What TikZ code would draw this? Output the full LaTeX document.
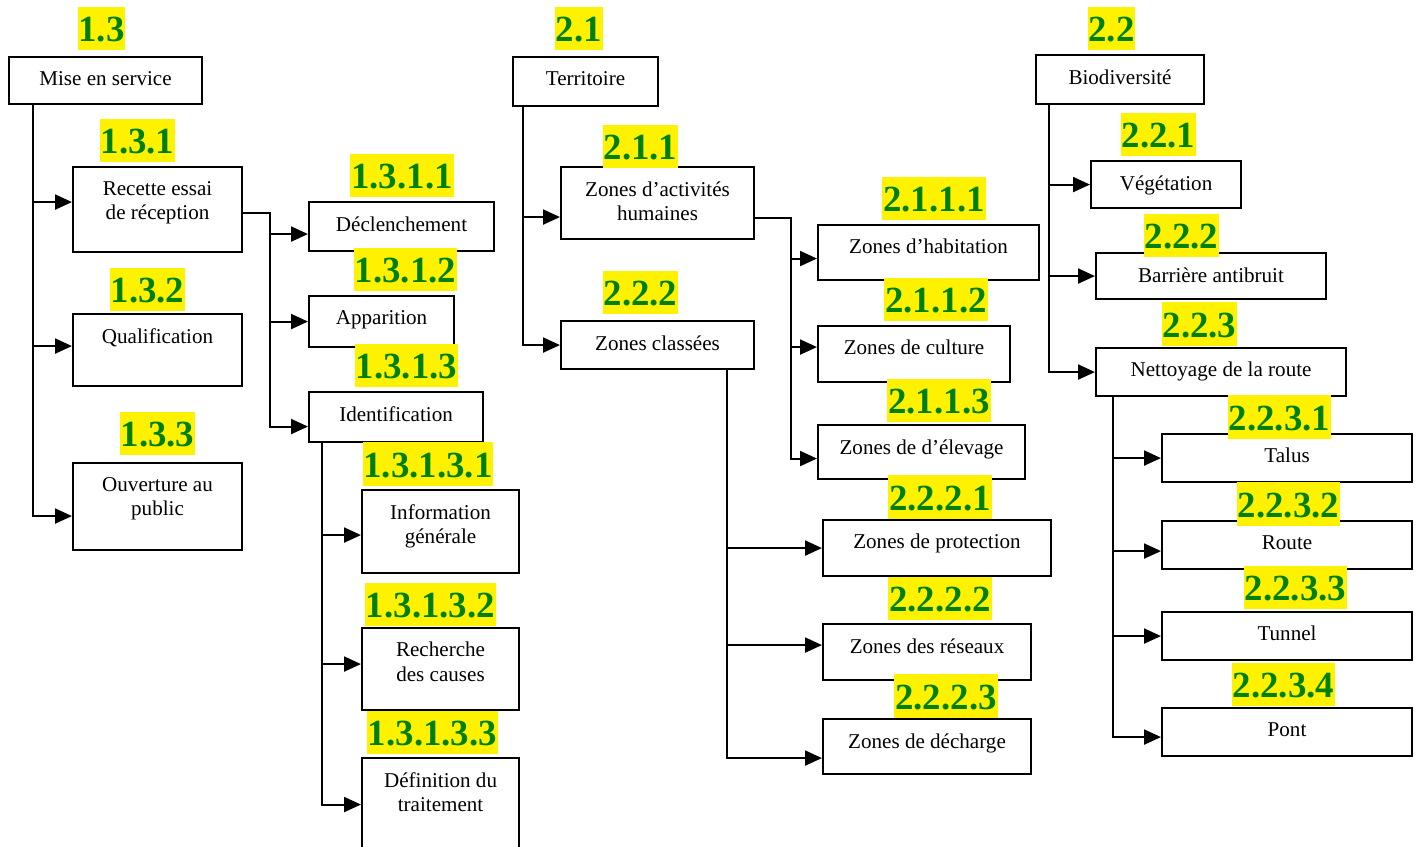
\documentclass[tikz,border=0pt]{standalone}
\usepackage{fontspec}
\setmainfont{Liberation Serif}
\usetikzlibrary{arrows.meta}
\definecolor{vert}{RGB}{0,128,0}

\begin{document}
\begin{tikzpicture}[
  x=0.02cm, y=-0.02cm,
  box/.style={draw, line width=1.2pt, anchor=north west, inner sep=0pt},
  boxtext/.style={anchor=north, yshift=-0.3cm, align=center, inner sep=0pt, font=\fontsize{12}{13.8}\selectfont},
  tag/.style={fill=yellow, text=vert, inner xsep=0.5pt, inner ysep=0pt, text height=20pt, text depth=5pt, font=\fontsize{21}{21}\selectfont\bfseries},
  arr/.style={-{Triangle[length=0.34cm, width=0.3cm]}, line width=1.2pt}
]
\useasboundingbox (0,0) rectangle (1420,846);

% 1.3 Mise en service
\node[box, minimum width=3.86cm, minimum height=0.94cm, label={[boxtext]north:Mise en service}] (mise) at (8,56) {};
\node[box, minimum width=3.38cm, minimum height=1.70cm, label={[boxtext]north:Recette essai\\de réception}] (recette) at (72,166) {};
\node[box, minimum width=3.38cm, minimum height=1.44cm, label={[boxtext]north:Qualification}] (qualif) at (72,313) {};
\node[box, minimum width=3.38cm, minimum height=1.74cm, label={[boxtext]north:Ouverture au\\public}] (ouvert) at (72,462) {};
\node[box, minimum width=3.70cm, minimum height=0.98cm, label={[boxtext]north:Déclenchement}] (decl) at (308,201) {};
\node[box, minimum width=2.90cm, minimum height=1.02cm, label={[boxtext]north:Apparition}] (appar) at (308,295) {};
\node[box, minimum width=3.48cm, minimum height=1.00cm, label={[boxtext]north:Identification}] (ident) at (308,391) {};
\node[box, minimum width=3.14cm, minimum height=1.66cm, label={[boxtext]north:Information\\générale}] (info) at (361,489) {};
\node[box, minimum width=3.14cm, minimum height=1.64cm, label={[boxtext]north:Recherche\\des causes}] (rech) at (361,627) {};
\node[box, minimum width=3.14cm, minimum height=1.86cm, label={[boxtext]north:Définition du\\traitement}] (defin) at (361,757) {};

% 2.1 Territoire
\node[box, minimum width=2.90cm, minimum height=0.98cm, label={[boxtext]north:Territoire}] (terr) at (512,56) {};
\node[box, minimum width=3.86cm, minimum height=1.44cm, label={[boxtext]north:Zones d’activités\\humaines}] (act) at (560,166) {};
\node[box, minimum width=3.86cm, minimum height=0.96cm, label={[boxtext]north:Zones classées}] (class) at (560,320) {};
\node[box, minimum width=4.42cm, minimum height=1.10cm, label={[boxtext]north:Zones d’habitation}] (habit) at (817,224) {};
\node[box, minimum width=3.84cm, minimum height=1.12cm, label={[boxtext]north:Zones de culture}] (cult) at (817,325) {};
\node[box, minimum width=4.14cm, minimum height=1.08cm, label={[boxtext]north:Zones de d’élevage}] (elev) at (817,424) {};
\node[box, minimum width=4.56cm, minimum height=1.12cm, label={[boxtext]north:Zones de protection}] (prot) at (822,519) {};
\node[box, minimum width=4.16cm, minimum height=1.12cm, label={[boxtext]north:Zones des réseaux}] (reseau) at (822,623) {};
\node[box, minimum width=4.16cm, minimum height=1.10cm, label={[boxtext]north:Zones de décharge}] (dech) at (822,718) {};

% 2.2 Biodiversite
\node[box, minimum width=3.36cm, minimum height=0.98cm, label={[boxtext]north:Biodiversité}] (bio) at (1035,54) {};
\node[box, minimum width=3.00cm, minimum height=0.94cm, label={[boxtext]north:Végétation}] (veget) at (1090,160) {};
\node[box, minimum width=4.60cm, minimum height=0.92cm, label={[boxtext]north:Barrière antibruit}] (barr) at (1095,252) {};
\node[box, minimum width=5.00cm, minimum height=0.96cm, label={[boxtext]north:Nettoyage de la route}] (nett) at (1095,347) {};
\node[box, minimum width=5.00cm, minimum height=0.96cm, label={[boxtext]north:Talus}] (talus) at (1161,433) {};
\node[box, minimum width=5.00cm, minimum height=0.96cm, label={[boxtext]north:Route}] (route) at (1161,520) {};
\node[box, minimum width=5.00cm, minimum height=0.96cm, label={[boxtext]north:Tunnel}] (tunnel) at (1161,611) {};
\node[box, minimum width=5.00cm, minimum height=0.96cm, label={[boxtext]north:Pont}] (pont) at (1161,707) {};

% liaisons
\draw[arr] ([xshift=0.5cm]mise.south west) |- ([yshift=0.15cm]recette.west);
\draw[arr] ([xshift=0.5cm]mise.south west) |- ([yshift=0.08cm]qualif.west);
\draw[arr] ([xshift=0.5cm]mise.south west) |- ([yshift=-0.19cm]ouvert.west);
\draw[arr] ([yshift=-0.07cm]recette.east) -- ++(27,0) |- ([yshift=-0.15cm]decl.west);
\draw[arr] ([yshift=-0.07cm]recette.east) -- ++(27,0) |- (appar.west);
\draw[arr] ([yshift=-0.07cm]recette.east) -- ++(27,0) |- ([yshift=-0.19cm]ident.west);
\draw[arr] ([xshift=0.28cm]ident.south west) |- ([yshift=-0.07cm]info.west);
\draw[arr] ([xshift=0.28cm]ident.south west) |- ([yshift=0.1cm]rech.west);
\draw[arr] ([xshift=0.28cm]ident.south west) |- (defin.west);

\draw[arr] ([xshift=0.22cm]terr.south west) |- ([yshift=-0.28cm]act.west);
\draw[arr] ([xshift=0.22cm]terr.south west) |- (class.west);
\draw[arr] ([yshift=-0.3cm]act.east) -- ++(36,0) |- ([yshift=-0.12cm]habit.west);
\draw[arr] ([yshift=-0.3cm]act.east) -- ++(36,0) |- ([yshift=0.14cm]cult.west);
\draw[arr] ([yshift=-0.3cm]act.east) -- ++(36,0) |- ([yshift=-0.13cm]elev.west);
\draw[arr] ([xshift=-0.56cm]class.south east) |- (prot.west);
\draw[arr] ([xshift=-0.56cm]class.south east) |- ([yshift=0.14cm]reseau.west);
\draw[arr] ([xshift=-0.56cm]class.south east) |- ([yshift=-0.23cm]dech.west);

\draw[arr] ([xshift=0.28cm]bio.south west) |- (veget.west);
\draw[arr] ([xshift=0.28cm]bio.south west) |- (barr.west);
\draw[arr] ([xshift=0.28cm]bio.south west) |- (nett.west);
\draw[arr] ([xshift=0.36cm]nett.south west) |- (talus.west);
\draw[arr] ([xshift=0.36cm]nett.south west) |- ([yshift=-0.12cm]route.west);
\draw[arr] ([xshift=0.36cm]nett.south west) |- (tunnel.west);
\draw[arr] ([xshift=0.36cm]nett.south west) |- ([yshift=-0.1cm]pont.west);

% numeros
\node[tag] (t13) at (101.5,28.5) {1.3};
\node[tag] (t131) at (137.5,140.5) {1.3.1};
\node[tag] (t132) at (147.5,289.5) {1.3.2};
\node[tag] (t133) at (157.5,433.5) {1.3.3};
\node[tag] (t1311) at (402,175.5) {1.3.1.1};
\node[tag] (t1312) at (405.5,269.5) {1.3.1.2};
\node[tag] (t1313) at (406.5,365.5) {1.3.1.3};
\node[tag] (t13131) at (428,464) {1.3.1.3.1};
\node[tag] (t13132) at (430.5,604.5) {1.3.1.3.2};
\node[tag] (t13133) at (432.5,732.5) {1.3.1.3.3};
\node[tag] (t21) at (579,28.5) {2.1};
\node[tag] (t211) at (640.5,146.5) {2.1.1};
\node[tag] (t212) at (640.5,292.5) {2.2.2};
\node[tag] (t2111) at (934,198.5) {2.1.1.1};
\node[tag] (t2112) at (936,299.5) {2.1.1.2};
\node[tag] (t2113) at (939,400.5) {2.1.1.3};
\node[tag] (t2221) at (940,497) {2.2.2.1};
\node[tag] (t2222) at (940,598.5) {2.2.2.2};
\node[tag] (t2223) at (946,696) {2.2.2.3};
\node[tag] (t22) at (1111.5,28.5) {2.2};
\node[tag] (t221) at (1158.5,134.5) {2.2.1};
\node[tag] (t222) at (1181.5,235.5) {2.2.2};
\node[tag] (t223) at (1199.5,324) {2.2.3};
\node[tag] (t2231) at (1279.5,417) {2.2.3.1};
\node[tag] (t2232) at (1288.5,504) {2.2.3.2};
\node[tag] (t2233) at (1295.5,587.5) {2.2.3.3};
\node[tag] (t2234) at (1283.5,684.5) {2.2.3.4};

\end{tikzpicture}
\end{document}
